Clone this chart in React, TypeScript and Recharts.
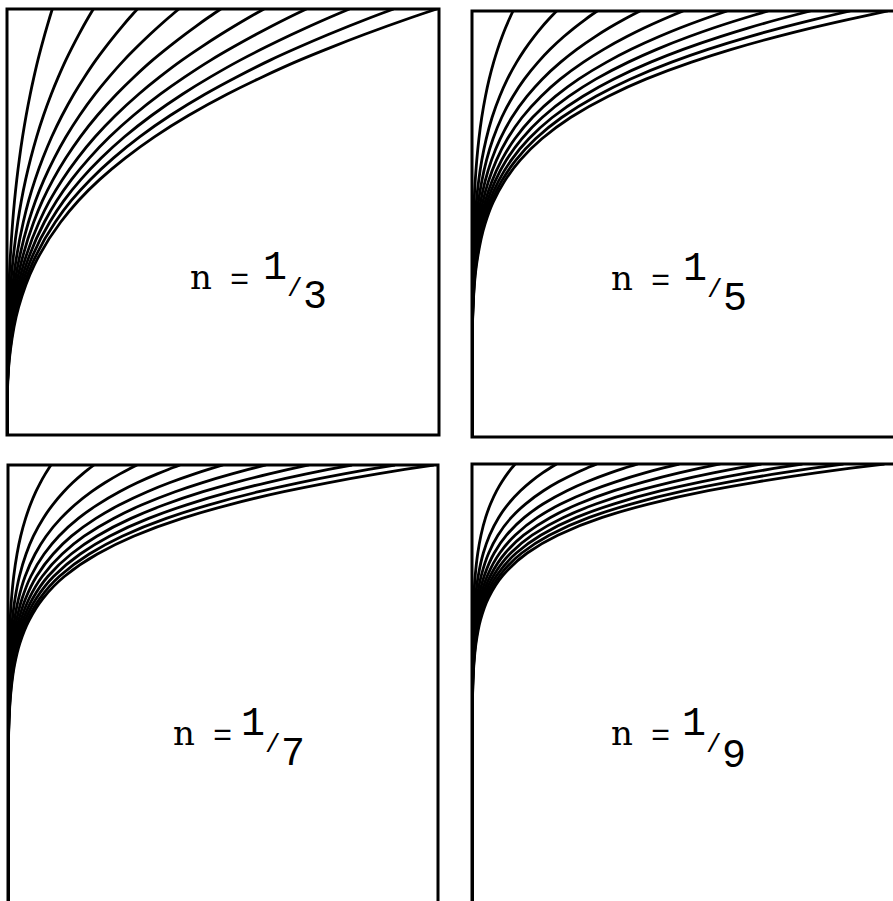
import React from 'react';
import { LineChart, Line, XAxis, YAxis, ReferenceArea } from 'recharts';

// height levels (fraction of box height), shared by all panels
const levels = [0, 0.1, 0.2, 0.3, 0.4, 0.5, 0.55, 0.6, 0.65, 0.7, 0.75, 0.8, 0.84, 0.88, 0.91, 0.94, 0.96, 0.98, 0.99, 1];

// outermost curve shape in each panel: x (fraction of its end point) at each level
const profileThird = [0, 0.001, 0.008, 0.027, 0.064, 0.125, 0.166, 0.216, 0.275, 0.343, 0.422, 0.512, 0.593, 0.681, 0.754, 0.831, 0.885, 0.941, 0.97, 1];
const profileFifth = [0, 0.00001, 0.0003, 0.0024, 0.0102, 0.0313, 0.0503, 0.0778, 0.116, 0.168, 0.237, 0.328, 0.418, 0.528, 0.624, 0.734, 0.815, 0.904, 0.951, 1];
const profileSeventh = [0, 0, 0.00001, 0.0002, 0.0016, 0.0078, 0.0152, 0.028, 0.049, 0.082, 0.133, 0.21, 0.295, 0.409, 0.517, 0.648, 0.751, 0.868, 0.932, 1];
const profileNinth = [0, 0, 0, 0.00002, 0.0003, 0.002, 0.0046, 0.0101, 0.0207, 0.0404, 0.0751, 0.134, 0.208, 0.316, 0.428, 0.573, 0.693, 0.834, 0.914, 1];

// where each curve meets the top edge (fraction of box width)
const endsThird = [0.105, 0.2, 0.302, 0.398, 0.495, 0.595, 0.693, 0.793, 0.895, 0.995];
const endsFifth = [0.097, 0.2, 0.296, 0.397, 0.499, 0.603, 0.7, 0.8, 0.894, 0.983];
const endsSeventh = [0.1, 0.2, 0.3, 0.4, 0.5, 0.6, 0.7, 0.8, 0.9, 0.99];
const endsNinth = [0.102, 0.2, 0.295, 0.392, 0.49, 0.587, 0.684, 0.781, 0.878, 0.975];

const denominators = ['3', '5', '7', '9'];

interface PanelProps {
  left: number;
  top: number;
  w: number;
  h: number;
  profile: number[];
  ends: number[];
}

const PAD = 3;

const Panel: React.FC<PanelProps> = ({ left, top, w, h, profile, ends }) => {
  const curves = ends.map((end) =>
    levels.map((lv, i) => ({ x: profile[i] * end, y: lv }))
  );
  return (
    <div style={{ position: 'absolute', left: left - PAD, top: top - PAD }}>
      <LineChart width={w + PAD * 2} height={h + PAD * 2} margin={{ top: PAD, right: PAD, bottom: PAD, left: PAD }}>
        <XAxis type="number" dataKey="x" domain={[0, 1]} hide allowDataOverflow />
        <YAxis type="number" domain={[0, 1]} hide allowDataOverflow />
        <ReferenceArea x1={0} x2={1} y1={0} y2={1} fill="none" fillOpacity={0} stroke="#000" strokeWidth={3} />
        {curves.map((pts, k) => (
          <Line
            key={k}
            data={pts}
            dataKey="y"
            type="monotoneY"
            stroke="#000"
            strokeWidth={2.8}
            dot={false}
            activeDot={false}
            isAnimationActive={false}
          />
        ))}
      </LineChart>
    </div>
  );
};

// label pieces: n, =, raised 1, slash, lowered denominator
const labelSpots = [
  { nx: 190, nb: 289, ox: 263, ob: 279, sx: 287, sb: 296, dx: 303, db: 308 },
  { nx: 611, nb: 290, ox: 683, ob: 280, sx: 707, sb: 297, dx: 723, db: 310 },
  { nx: 173, nb: 745, ox: 241, ob: 735, sx: 265, sb: 752, dx: 281, db: 765 },
  { nx: 611, nb: 745, ox: 682, ob: 735, sx: 706, sb: 752, dx: 722, db: 767 },
];

export default function App() {
  const mono = '"Liberation Mono", "DejaVu Sans Mono", monospace';
  const serif = '"DejaVu Serif", "Liberation Serif", serif';
  return (
    <div style={{ position: 'fixed', left: 0, top: 0, width: 893, height: 901, overflow: 'hidden', background: '#fff' }}>
      <Panel left={7} top={9} w={432} h={426} profile={profileThird} ends={endsThird} />
      <Panel left={472} top={11} w={423} h={426} profile={profileFifth} ends={endsFifth} />
      <Panel left={8} top={465} w={430} h={445} profile={profileSeventh} ends={endsSeventh} />
      <Panel left={472} top={464} w={423} h={445} profile={profileNinth} ends={endsNinth} />
      <svg width={893} height={901} style={{ position: 'absolute', left: 0, top: 0, pointerEvents: 'none' }}>
        {labelSpots.map((s, i) => (
          <text key={i} fill="#000" fontFamily={mono}>
            <tspan x={s.nx} y={s.nb} fontFamily={serif} fontSize={34}>n</tspan>
            <tspan x={s.nx + 40} y={s.nb} fontSize={32}>=</tspan>
            <tspan x={s.ox} y={s.ob} fontSize={40}>1</tspan>
            <tspan x={s.sx} y={s.sb} fontSize={26}>/</tspan>
            <tspan x={s.dx} y={s.db} fontSize={40}>{denominators[i]}</tspan>
          </text>
        ))}
      </svg>
    </div>
  );
}
